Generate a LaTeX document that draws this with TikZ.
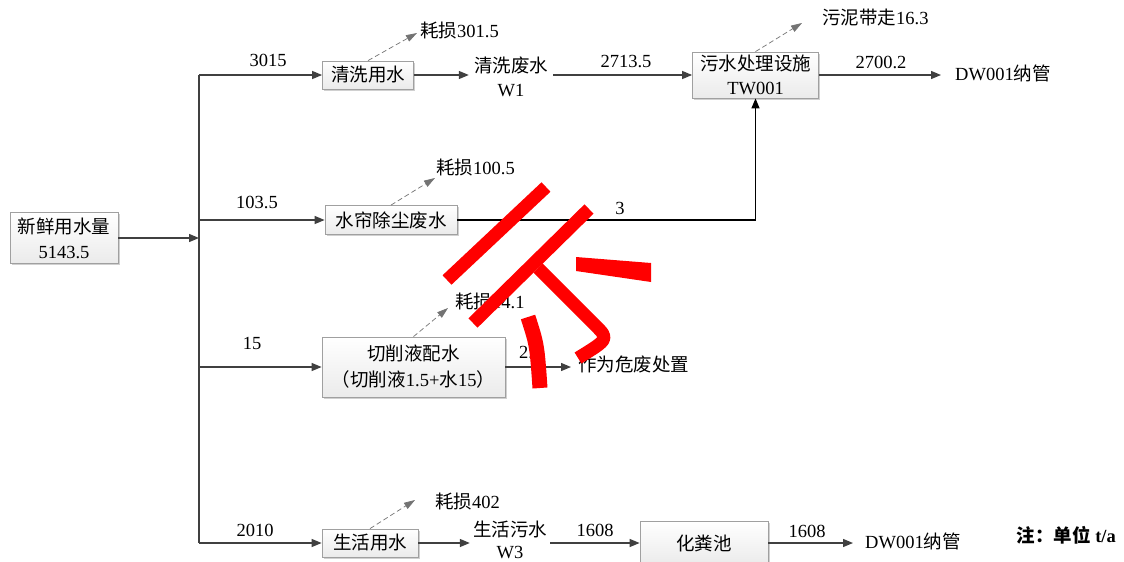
\documentclass[tikz,border=0pt]{standalone}
\usepackage{fontspec}
\setmainfont{Liberation Serif}
\newfontfamily\cjk{Noto Sans CJK SC}
\newcommand\zhtxt[1]{{\cjk #1}}
\usetikzlibrary{arrows.meta,shadows}
\definecolor{lineC}{HTML}{404040}
\definecolor{boxB}{HTML}{A0A0A0}
\begin{document}
\begin{tikzpicture}[x=1pt,y=-1pt,
  every node/.style={font=\fontsize{18.5}{24}\selectfont},
  box/.style={draw=boxB, line width=0.8pt, top color=white, bottom color=black!8,
    drop shadow={shadow xshift=1.5pt,shadow yshift=-1.5pt,fill=black!30,opacity=0.6},
    inner sep=0pt, align=center},
  txt/.style={inner sep=0pt, align=center},
  flow/.style={draw=lineC, line width=1.3pt, -{Triangle[length=10pt,width=8pt]}},
  plain/.style={draw=lineC, line width=1.3pt},
  loss/.style={draw=black!55, line width=0.7pt, dash pattern=on 5pt off 3pt, -{Triangle[length=11pt,width=7pt]}},
  redstroke/.style={draw=red, line width=13pt}
]
\useasboundingbox (0,0) rectangle (1124,562);
\fill[white] (0,0) rectangle (1124,562);

% source
\node[box, minimum width=108pt, minimum height=51pt, font=\fontsize{18.5}{25}\selectfont] (fresh) at (64,238) {\zhtxt{新鲜用水量}\\5143.5};
\coordinate (jin) at (199,238);
\coordinate (jtop) at (199,75);
\coordinate (j2) at (199,220);
\coordinate (j3) at (199,367);
\coordinate (jbot) at (199,543);
\draw[flow] (fresh.east) -- (jin);
\draw[plain] (jtop) -- (jbot);

% row 1
\node[box, minimum width=91pt, minimum height=28pt] (b1) at (368,75) {\zhtxt{清洗用水}};
\node[txt, inner xsep=5pt] (w1) at (511,77) {\zhtxt{清洗废水}\\W1};
\node[box, minimum width=126pt, minimum height=46pt] (tw) at (755.5,75) {\zhtxt{污水处理设施}\\TW001};
\node[txt, anchor=west] (dw1) at (955,73) {DW001\zhtxt{纳管}};
\draw[flow] (jtop) -- (b1.west);
\draw[flow] (b1.east) -- (b1.east -| w1.west);
\draw[flow] (w1.east |- tw.west) -- (tw.west);
\draw[flow, shorten >=14pt] (tw.east) -- (tw.east -| dw1.west);
\node[txt] (q1) at (268,60) {3015};
\node[txt] (q2) at (626,62) {2713.5};
\node[txt] (q3) at (881,62) {2700.2};
\node[txt, anchor=west] (l1) at (420,31) {\zhtxt{耗损}301.5};
\coordinate (t1) at (417,33);
\draw[loss] (b1.north) -- (t1);
\node[txt, anchor=west] (l5) at (822,17) {\zhtxt{污泥带走}16.3};
\coordinate (t5) at (802,23);
\draw[loss] (tw.north) -- (t5);

% row 2
\node[box, minimum width=132pt, minimum height=29pt] (b2) at (391,220) {\zhtxt{水帘除尘废水}};
\draw[flow] (j2) -- (b2.west);
\draw[draw=black, line width=1.3pt, -{Triangle[length=10pt,width=8pt]}] (b2.east) -| (tw.south);
\node[txt] (q4) at (257,202) {103.5};
\node[txt] (q5) at (620,208) {3};
\node[txt, anchor=west] (l2) at (436,168) {\zhtxt{耗损}100.5};
\coordinate (t2) at (435,178);
\draw[loss] (b2.north) -- (t2);

% row 3
\node[box, minimum width=183pt, minimum height=60pt, font=\fontsize{18.5}{26}\selectfont] (b3) at (413.5,367) {\zhtxt{切削液配水}\\\zhtxt{（切削液}1.5+\zhtxt{水}15\zhtxt{）}};
\draw[flow] (j3) -- (b3.west);
\node[txt] (q6) at (252,343) {15};
\node[txt, anchor=west] (l3) at (455,302) {\zhtxt{耗损}14.1};
\coordinate (t3) at (448,308);
\draw[loss] (b3.north) -- (t3);
\node[txt, anchor=west] (haz) at (578,364) {\zhtxt{作为危废处置}};
\draw[flow, shorten >=7pt] (b3.east) -- (b3.east -| haz.west);
\node[txt, anchor=west] (q7) at (519,353) {2.4};

% row 4
\node[box, minimum width=96pt, minimum height=28pt] (b4) at (370,543) {\zhtxt{生活用水}};
\node[txt, inner xsep=3pt, font=\fontsize{18.5}{22}\selectfont] (w3) at (510,540) {\zhtxt{生活污水}\\W3};
\node[box, minimum width=128pt, minimum height=44pt] (hf) at (704,543) {\zhtxt{化粪池}};
\node[txt, anchor=west] (dw2) at (865,541) {DW001\zhtxt{纳管}};
\draw[flow] (jbot) -- (b4.west);
\draw[flow] (b4.east) -- (b4.east -| w3.west);
\draw[flow] (w3.east |- hf.west) -- (hf.west);
\draw[flow, shorten >=12pt] (hf.east) -- (hf.east -| dw2.west);
\node[txt] (q8) at (255,530) {2010};
\node[txt] (q9) at (595,530) {1608};
\node[txt] (q10) at (807,531) {1608};
\node[txt, anchor=west] (l4) at (435,502) {\zhtxt{耗损}402};
\coordinate (t4) at (415,500);
\draw[loss] (b4.north) -- (t4);

% note
\node[txt, anchor=east] (note) at (1116,535) {\bfseries\zhtxt{注：单位} t/a};

% red strokes
\draw[redstroke] (447,280) -- (546,187);
\draw[redstroke] (473,323) -- (589,209);
\draw[redstroke, line join=round] (538,268) -- (595,325) .. controls (609,339) .. (578,358);
\fill[red] (576,257) -- (651,263) -- (651,282) -- (576,271) -- cycle;
\draw[redstroke, line width=15pt] (528,317) .. controls (537,345) .. (540,388);
\end{tikzpicture}
\end{document}
